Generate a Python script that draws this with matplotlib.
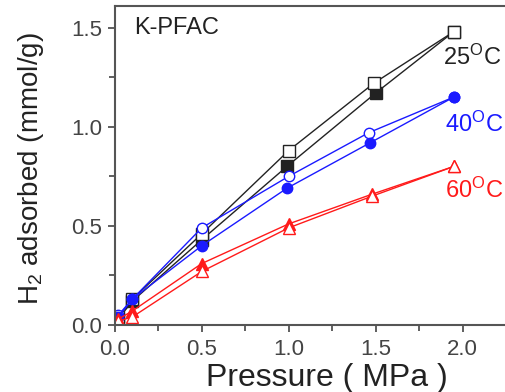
import matplotlib
matplotlib.use('Agg')
import matplotlib.pyplot as plt

plt.rcParams['font.family'] = 'Liberation Sans'
plt.rcParams['mathtext.fontset'] = 'custom'
plt.rcParams['mathtext.rm'] = 'Liberation Sans'
plt.rcParams['mathtext.it'] = 'Liberation Sans'

# 25 C - open squares / filled squares
p25_open = [0.02, 0.10, 0.50, 1.00, 1.49, 1.95]
q25_open = [0.04, 0.13, 0.46, 0.88, 1.22, 1.48]
p25_fill = [0.02, 0.10, 0.50, 0.99, 1.50, 1.95]
q25_fill = [0.03, 0.12, 0.43, 0.80, 1.17, 1.48]

# 40 C - open circles / filled circles
p40_open = [0.02, 0.10, 0.50, 1.00, 1.46, 1.95]
q40_open = [0.05, 0.13, 0.49, 0.75, 0.97, 1.15]
p40_fill = [0.02, 0.10, 0.50, 0.99, 1.47, 1.95]
q40_fill = [0.04, 0.13, 0.40, 0.69, 0.92, 1.15]

# 60 C - open triangles / filled triangles
p60_open = [0.02, 0.10, 0.50, 1.00, 1.48, 1.95]
q60_open = [0.02, 0.04, 0.27, 0.49, 0.65, 0.80]
p60_fill = [0.02, 0.10, 0.50, 1.00, 1.48, 1.95]
q60_fill = [0.03, 0.07, 0.31, 0.51, 0.66, 0.80]

labels = ['25$^\\mathrm{O}$C', '40$^\\mathrm{O}$C', '60$^\\mathrm{O}$C']
label_x = [1.885, 1.9, 1.9]
label_y = [1.31, 0.975, 0.64]
colors = ['#222222', '#1a1aff', '#ff1a1a']

fig = plt.figure(figsize=(5.06, 3.92), dpi=100)
ax = fig.add_axes([0.227, 0.171, 0.773, 0.814])

# black: filled under, open on top
ax.plot(p25_fill, q25_fill, '-s', color=colors[0], lw=1.0, ms=8, mfc=colors[0], mec=colors[0])
ax.plot(p25_open, q25_open, '-s', color=colors[0], lw=1.0, ms=8, mfc='white', mec=colors[0], mew=1.0)
# blue: open under, filled on top
ax.plot(p40_open, q40_open, '-o', color=colors[1], lw=1.0, ms=7.5, mfc='white', mec=colors[1], mew=1.0)
ax.plot(p40_fill, q40_fill, '-o', color=colors[1], lw=1.0, ms=7.5, mfc=colors[1], mec=colors[1])
# red: filled under, open on top
ax.plot(p60_fill, q60_fill, '-^', color=colors[2], lw=1.0, ms=9, mfc=colors[2], mec=colors[2])
ax.plot(p60_open, q60_open, '-^', color=colors[2], lw=1.0, ms=9, mfc='white', mec=colors[2], mew=1.0)

for lab, lx, ly, c in zip(labels, label_x, label_y, colors):
    ax.text(lx, ly, lab, color=c, fontsize=17, ha='left', va='baseline')

ax.text(0.11, 1.5, 'K-PFAC', fontsize=17, color='#222222', ha='left', va='center')

ax.set_xlim(0, 2.228)
ax.set_ylim(0, 1.61)
ax.set_xticks([0.0, 0.5, 1.0, 1.5, 2.0])
ax.set_xticks([0.25, 0.75, 1.25, 1.75, 2.25], minor=True)
ax.set_yticks([0.0, 0.5, 1.0, 1.5])
ax.set_yticks([0.25, 0.75, 1.25], minor=True)
ax.set_xticklabels(['0.0', '0.5', '1.0', '1.5', '2.0'])
ax.set_yticklabels(['0.0', '0.5', '1.0', '1.5'])
ax.tick_params(which='both', direction='out', colors='#444444', labelsize=16, width=1.2)
ax.tick_params(which='major', length=5)
ax.tick_params(which='minor', length=4)
ax.tick_params(axis='x', pad=5)
ax.tick_params(axis='y', pad=4)
ax.spines['right'].set_visible(False)
for s in ['left', 'bottom', 'top']:
    ax.spines[s].set_color('#555555')
    ax.spines[s].set_linewidth(1.5)

ax.set_xlabel('Pressure ( MPa )', fontsize=23, color='#222222')
ax.set_ylabel('H$_2$ adsorbed (mmol/g)', fontsize=20, color='#222222')
ax.xaxis.set_label_coords(0.543, -0.118)
ax.xaxis.label.set_va('top')
ax.yaxis.set_label_coords(-0.175, 0.49)

fig.savefig('out.png', dpi=100)
